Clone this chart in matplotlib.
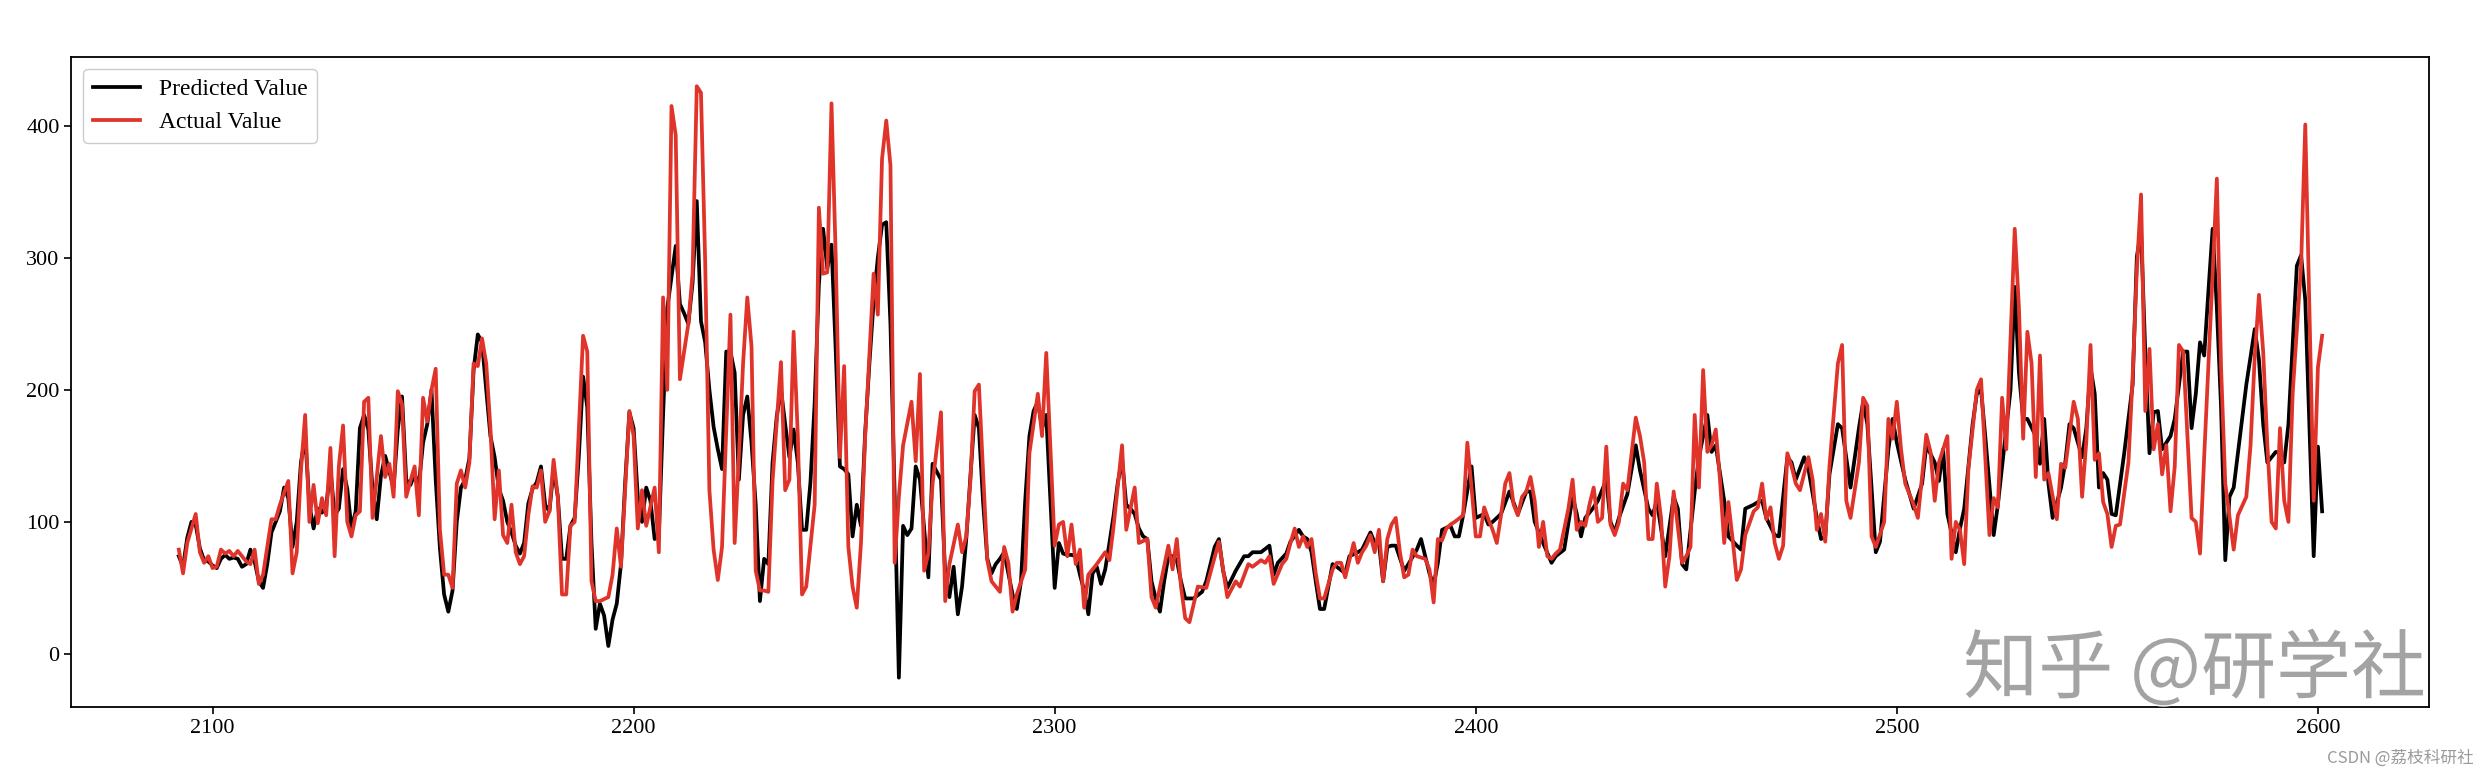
import matplotlib
matplotlib.use("Agg")
import matplotlib.pyplot as plt
import matplotlib.patheffects as pe

# ---------------- data ----------------
actual_x = [
    2092, 2093, 2094, 2096, 2097, 2098, 2099, 2100, 2101, 2102, 2103, 2104, 2105, 2106, 2108, 2109, 2110, 2111, 2112, 2113,
    2114, 2115, 2116, 2118, 2119, 2120, 2121, 2122, 2123, 2124, 2125, 2126, 2127, 2128, 2129, 2130, 2131, 2132, 2133,
    2134, 2135, 2136, 2137, 2138, 2140, 2141, 2142, 2143, 2144, 2145, 2146, 2147, 2148, 2149, 2150, 2151, 2152, 2153,
    2154, 2155, 2156, 2157, 2158, 2159, 2160, 2161, 2162, 2163, 2164, 2165, 2166, 2167, 2168, 2169, 2170, 2171, 2172,
    2173, 2174, 2175, 2176,
    2177, 2178, 2179, 2180, 2181, 2182, 2183, 2184, 2185, 2186, 2188, 2189, 2190, 2191, 2192, 2194, 2195, 2196, 2197,
    2199, 2200, 2201, 2202, 2203, 2205, 2206, 2207, 2208, 2209, 2210, 2211, 2212, 2213, 2214, 2215, 2216, 2217, 2218, 2219,
    2220, 2221, 2223, 2224, 2225, 2226, 2227, 2228, 2229, 2230, 2231, 2232, 2233, 2235, 2236, 2237, 2238, 2239, 2240,
    2241, 2243, 2244, 2245, 2246, 2247, 2248, 2249, 2250, 2251, 2252, 2253, 2254, 2255, 2257, 2258, 2259, 2260, 2261, 2262,
    2263, 2264, 2266, 2267, 2268, 2269, 2270, 2271, 2273, 2274, 2275, 2277, 2278, 2279, 2280, 2281, 2282, 2284, 2285,
    2287, 2288, 2289, 2290, 2291, 2293, 2294, 2296, 2297, 2298, 2300, 2301, 2302, 2303, 2304,
    2305, 2306, 2307, 2308, 2310, 2312, 2313, 2314, 2316, 2317, 2319, 2320, 2322, 2323, 2324, 2327, 2328, 2329, 2330,
    2331, 2332, 2334, 2336, 2339, 2341, 2343, 2344, 2346, 2347,
    2349, 2350, 2351, 2352, 2354, 2355, 2356, 2357, 2358, 2359, 2360, 2361, 2362, 2363, 2364, 2366, 2367, 2368, 2369,
    2370, 2371, 2372, 2373, 2374, 2375, 2376, 2377, 2378, 2379, 2380, 2381, 2382, 2383, 2384, 2385, 2386, 2388, 2389, 2390,
    2391, 2392, 2393, 2394, 2395, 2397, 2398, 2399, 2400, 2401, 2402, 2403, 2404, 2405, 2406, 2407, 2408, 2409, 2410,
    2411, 2412, 2413, 2414, 2415, 2416, 2417, 2418, 2419, 2420, 2422, 2423, 2424, 2425, 2426, 2427, 2428, 2429, 2430,
    2431, 2432,
    2433, 2434, 2435, 2436, 2438, 2439, 2440, 2441, 2442, 2443, 2444, 2445, 2446, 2447, 2449, 2450, 2451, 2452, 2453,
    2454, 2455, 2456, 2457, 2458, 2459, 2460, 2461, 2462, 2463, 2464, 2466, 2467, 2468, 2469, 2470, 2471, 2472, 2473,
    2474, 2475,
    2476, 2477, 2479, 2480, 2481, 2482, 2483, 2484, 2486, 2487, 2488, 2489, 2491, 2492, 2493, 2494, 2495, 2497, 2498,
    2499, 2500, 2501, 2502, 2504, 2505, 2507, 2508, 2509, 2510, 2512, 2513, 2514, 2515, 2516, 2517, 2519, 2520,
    2522, 2523, 2524, 2525, 2526, 2528, 2529, 2530, 2531, 2532, 2533, 2534, 2535, 2536, 2538, 2539, 2540, 2542, 2543,
    2544, 2545, 2546, 2547, 2548, 2549, 2550, 2551, 2552, 2553, 2555, 2556, 2557, 2558, 2559, 2560,
    2561, 2562, 2563, 2564, 2565, 2566, 2567, 2568, 2570, 2571, 2572, 2573, 2575, 2576, 2577, 2578, 2580, 2581, 2583,
    2584, 2585, 2586, 2587, 2588, 2589, 2590, 2591, 2592, 2593, 2594, 2596, 2597, 2598, 2599, 2600, 2601,
]
actual_y = [
    79, 61, 84, 106, 77, 69, 74, 65, 66, 79, 76, 78, 74, 78, 70, 68, 79, 53, 60, 81,
    102, 102, 113, 131, 61, 77, 139, 181, 100, 128, 99, 118, 105, 156, 74, 142, 173, 100, 89,
    105, 108, 191, 194, 103, 165, 134, 144, 119, 199, 189, 119, 131, 142, 105, 194, 176, 200, 216,
    94, 60, 60, 50, 129, 139, 126, 145, 220, 218, 239, 220, 171, 102, 139, 90, 84, 113, 77,
    68, 74, 105, 127,
    126, 139, 100, 108, 147, 119, 45, 45, 97, 100, 241, 229, 55, 40, 40, 43, 60, 95, 66,
    184, 165, 95, 124, 97, 126, 77, 270, 200, 415, 393, 208, 229, 250, 288, 430, 425, 297, 124, 79,
    56, 81, 257, 84, 149, 220, 270, 233, 63, 48, 48, 47, 131, 221, 124, 132, 244, 165, 45,
    51, 113, 338, 288, 289, 417, 301, 149, 218, 81, 51, 35, 84, 165, 288, 257, 375, 404, 370, 69,
    119, 158, 191, 146, 212, 63, 76, 129, 183, 40, 68, 98, 77, 89, 132, 199, 204, 71, 55,
    47, 81, 69, 32, 45, 64, 152, 197, 165, 228, 82, 98, 100, 74, 98,
    68, 79, 35, 60, 68, 77, 71, 97, 158, 94, 126, 84, 87, 43, 35, 82, 64, 87, 51,
    27, 24, 51, 50, 85, 43, 55, 51, 68, 66,
    71, 69, 74, 53, 68, 72, 84, 95, 81, 89, 81, 87, 61, 42, 42, 64, 69, 69, 58,
    71, 84, 69, 77, 82, 90, 77, 94, 55, 87, 98, 103, 77, 58, 60, 79, 74, 72, 64, 39,
    87, 86, 95, 98, 100, 105, 160, 126, 89, 89, 111, 102, 94, 84, 105, 129, 137, 113, 105,
    119, 123, 134, 116, 81, 100, 74, 72, 76, 79, 110, 132, 94, 100, 97, 113, 126, 100, 103,
    157, 98,
    90, 100, 129, 124, 179, 165, 145, 87, 87, 129, 103, 51, 74, 123, 69, 74, 81, 181, 126,
    215, 153, 158, 170, 132, 84, 115, 87, 56, 64, 90, 108, 111, 129, 102, 111, 84, 72, 82,
    152, 142,
    129, 124, 149, 132, 94, 106, 85, 142, 220, 234, 116, 103, 145, 194, 188, 89, 81, 100, 178,
    163, 191, 155, 129, 113, 103, 166, 153, 116, 145, 165, 72, 100, 94, 68, 140, 200, 208,
    90, 118, 111, 194, 155, 322, 262, 163, 244, 220, 134, 226, 132, 137, 102, 144, 141, 191, 178,
    119, 161, 234, 147, 152, 115, 106, 81, 97, 98, 145, 210, 291, 348, 184, 231,
    155, 174, 136, 158, 108, 142, 234, 229, 103, 100, 76, 150, 288, 360, 217, 129, 79, 105, 119,
    158, 225, 272, 229, 158, 100, 95, 171, 116, 100, 197, 294, 401, 260, 116, 217, 241,
]

pred_x = [
    2092, 2093, 2094, 2095, 2096, 2097, 2098, 2099, 2100, 2101, 2102, 2103, 2104, 2105, 2106, 2107, 2108, 2109, 2110,
    2111, 2112, 2113, 2114, 2115, 2116, 2117, 2118, 2119, 2120, 2121, 2122, 2123, 2124, 2125, 2126, 2127, 2128, 2129,
    2130, 2131,
    2132, 2133, 2134, 2135, 2136, 2137, 2138, 2139, 2140, 2141, 2142, 2143, 2144, 2145, 2146, 2147, 2148, 2149, 2150,
    2151, 2152, 2153, 2154, 2155, 2156, 2157, 2158, 2159, 2160, 2161, 2162, 2163, 2164, 2165, 2166, 2167, 2168, 2169,
    2170, 2171, 2172, 2173, 2174,
    2175, 2176, 2177, 2178, 2179, 2180, 2181, 2182, 2183, 2184, 2185, 2186, 2187, 2188, 2189, 2190, 2191, 2192, 2193,
    2194, 2195, 2196, 2197, 2198, 2199, 2200, 2201, 2202, 2203, 2204, 2205, 2206, 2207, 2208, 2210, 2211, 2212, 2213,
    2214, 2215, 2216, 2217,
    2218, 2219, 2220, 2221, 2222, 2223, 2224, 2225, 2226, 2227, 2228, 2229, 2230, 2231, 2232, 2233, 2234, 2235, 2236,
    2237, 2238, 2239, 2240, 2241, 2242, 2243, 2244, 2245, 2246, 2247, 2248, 2249, 2250, 2251, 2252, 2253, 2254, 2255,
    2256, 2257, 2258, 2259, 2260, 2261,
    2262, 2263, 2264, 2265, 2266, 2267, 2268, 2269, 2270, 2271, 2272, 2273, 2274, 2275, 2276, 2277, 2278, 2279, 2280,
    2281, 2282, 2283, 2284, 2285, 2286, 2287, 2288, 2289, 2290, 2291, 2292, 2293, 2294, 2295, 2296, 2297, 2298, 2299,
    2300, 2301, 2302, 2303,
    2304, 2305, 2306, 2307, 2308, 2309, 2310, 2311, 2312, 2313, 2314, 2315, 2316, 2317, 2318, 2319, 2320, 2321, 2322,
    2323, 2324, 2325, 2326, 2327, 2328, 2329, 2330, 2331, 2333, 2335, 2336, 2338, 2339, 2340, 2341, 2343, 2345,
    2346, 2347, 2349, 2351, 2352, 2353, 2355, 2356, 2358, 2359, 2360, 2361, 2362, 2363, 2364, 2366, 2367, 2369, 2370,
    2372, 2373, 2375, 2376, 2377, 2378, 2379, 2380, 2381, 2383, 2384, 2386, 2387, 2388, 2389, 2390,
    2391, 2392, 2394, 2395, 2396, 2397, 2399, 2400, 2402, 2403, 2404, 2406, 2408, 2410, 2412, 2413, 2414, 2416, 2418,
    2419, 2421, 2423, 2424, 2425, 2426, 2428, 2429, 2431, 2432,
    2433, 2434, 2436, 2438, 2439, 2441, 2442, 2443, 2445, 2447, 2448, 2449, 2450, 2452, 2453, 2455, 2456, 2457, 2459,
    2460, 2462, 2463, 2464, 2466, 2467, 2468, 2469, 2471, 2472, 2474, 2475,
    2476, 2478, 2479, 2481, 2482, 2483, 2484, 2486, 2487, 2489, 2491, 2492, 2493, 2495, 2496, 2498, 2499, 2500, 2502,
    2504, 2506, 2507, 2509, 2510, 2511, 2512, 2514, 2515, 2516, 2518,
    2519, 2520, 2521, 2523, 2524, 2526, 2527, 2528, 2529, 2530, 2531, 2533, 2534, 2535, 2536, 2537, 2539, 2540, 2541,
    2542, 2544, 2545, 2546, 2547, 2548, 2549, 2550, 2551, 2552, 2554, 2556, 2557, 2558, 2559,
    2560, 2561, 2562, 2563, 2565, 2566, 2568, 2569, 2570, 2571, 2572, 2573, 2574, 2575, 2576, 2577, 2578, 2579, 2580,
    2581, 2583, 2585, 2586, 2587, 2588, 2590, 2591, 2592, 2593, 2595, 2596, 2597, 2599, 2600, 2601,
]
pred_y = [
    74, 66, 88, 100, 98, 80, 71, 70, 67, 65, 72, 75, 72, 73, 72, 66, 68, 79, 70,
    55, 50, 68, 92, 100, 108, 126, 118, 81, 100, 145, 165, 113, 95, 110, 107, 112, 140, 105,
    110, 140,
    125, 95, 108, 171, 181, 170, 125, 102, 135, 150, 138, 126, 170, 195, 132, 128, 136, 128, 160,
    174, 200, 132, 80, 45, 32, 48, 100, 126, 132, 148, 215, 242, 236, 200, 165, 149, 125, 116,
    100, 92, 82, 76, 84,
    114, 125, 130, 142, 113, 108, 140, 119, 72, 72, 97, 103, 150, 210, 187, 84, 19, 38, 29,
    6, 26, 38, 68, 130, 183, 171, 119, 100, 126, 116, 87, 90, 181, 262, 309, 265, 258, 250,
    281, 343, 252, 236,
    200, 172, 155, 140, 229, 229, 213, 132, 181, 195, 160, 113, 40, 72, 68, 145, 180, 200, 174,
    149, 170, 145, 94, 94, 130, 190, 280, 322, 292, 310, 230, 142, 140, 136, 89, 113, 97, 168,
    220, 267, 300, 325, 327, 250,
    120, -18, 97, 90, 95, 142, 132, 95, 58, 144, 138, 132, 60, 43, 66, 30, 51, 87, 135,
    181, 171, 115, 72, 61, 68, 72, 77, 61, 45, 34, 55, 116, 165, 184, 191, 171, 181, 115,
    50, 84, 76, 75,
    75, 74, 60, 48, 30, 61, 66, 53, 64, 84, 105, 130, 147, 113, 110, 106, 95, 89, 87,
    55, 42, 32, 55, 74, 74, 71, 55, 42, 42, 47, 55, 81, 87, 63, 50, 63, 74,
    74, 77, 77, 82, 60, 69, 76, 85, 94, 89, 87, 77, 55, 34, 34, 68, 66, 61, 74,
    77, 79, 92, 84, 84, 55, 81, 82, 82, 63, 68, 79, 87, 74, 61, 52,
    69, 94, 97, 89, 89, 105, 142, 103, 106, 98, 100, 106, 123, 106, 123, 123, 100, 84, 69,
    74, 79, 119, 106, 89, 103, 111, 116, 132, 100,
    92, 103, 121, 158, 139, 110, 105, 116, 74, 119, 110, 68, 64, 123, 149, 181, 153, 158, 116,
    89, 82, 79, 110, 113, 115, 116, 103, 90, 89, 149, 145,
    132, 149, 140, 103, 87, 89, 136, 174, 171, 126, 171, 191, 174, 77, 85, 155, 178, 160, 132,
    110, 129, 158, 145, 131, 155, 106, 77, 95, 110, 174,
    197, 200, 165, 90, 113, 171, 200, 278, 213, 178, 178, 165, 144, 178, 129, 103, 126, 145, 174,
    171, 149, 171, 217, 197, 126, 137, 132, 106, 105, 152, 204, 301, 320, 229,
    152, 183, 184, 155, 165, 178, 229, 229, 171, 197, 236, 226, 275, 322, 262, 187, 71, 119, 126,
    152, 204, 246, 223, 174, 145, 153, 152, 145, 174, 294, 302, 268, 74, 157, 108,
]

x_ticks = [2100, 2200, 2300, 2400, 2500, 2600]
y_ticks = [0, 100, 200, 300, 400]
labels = ["Predicted Value", "Actual Value"]

# ---------------- figure ----------------
plt.rcParams["font.family"] = ["Liberation Serif", "DejaVu Serif"]

fig = plt.figure(figsize=(24.9, 7.79), dpi=100)
ax = fig.add_axes([0.0287, 0.0928, 0.9470, 0.8338])

ax.plot(pred_x, pred_y, color="black", linewidth=2.7, label=labels[0])
ax.plot(actual_x, actual_y, color="#e0332a", linewidth=2.7, label=labels[1])

ax.set_xlim(2066.5, 2626.5)
ax.set_ylim(-40, 452)
ax.set_xticks(x_ticks)
ax.set_yticks(y_ticks)
ax.tick_params(labelsize=16, length=5, width=1.2)
for s in ax.spines.values():
    s.set_linewidth(1.3)

leg = ax.legend(loc="upper left", fontsize=17, framealpha=1.0,
                edgecolor="0.8", borderaxespad=0.5)

# watermarks present in the reference image
ax.text(0.9985, -0.004, "知乎 @研学社", transform=ax.transAxes, ha="right", va="bottom",
        fontsize=54, color="#a3a3a3", family=["Noto Sans CJK SC", "DejaVu Sans"],
        path_effects=[pe.withStroke(linewidth=2, foreground="white")], zorder=5)
fig.text(0.9935, 0.027, "CSDN @荔枝科研社", ha="right", va="center",
         fontsize=12, color="#9a9a9a", family=["Noto Sans CJK SC", "DejaVu Sans"])

fig.savefig("out.png", dpi=100)
